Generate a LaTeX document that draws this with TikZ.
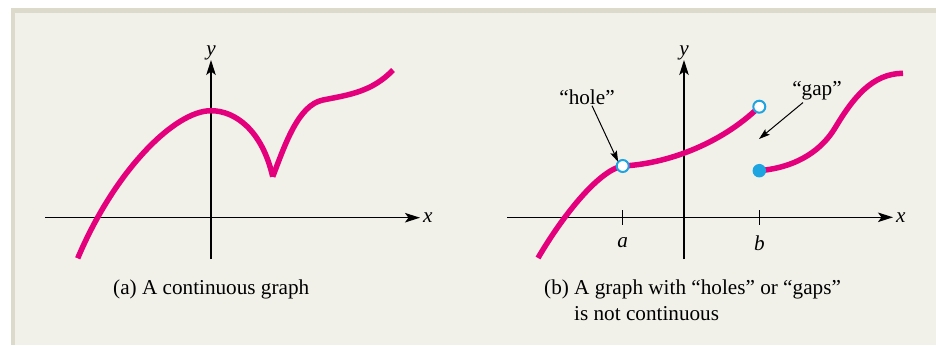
\documentclass[tikz,border=0pt]{standalone}
\usepackage{fontspec}
\setmainfont{Liberation Serif}
\newfontfamily\figfont{Liberation Serif}
\usetikzlibrary{arrows.meta}
\definecolor{bg}{HTML}{F2F1E9}
\definecolor{band}{HTML}{DCDBCB}
\definecolor{mag}{HTML}{E4007C}
\definecolor{dotblue}{HTML}{1EA4E0}
\begin{document}
\begin{tikzpicture}[x=1pt,y=-1pt,
  font=\figfont\fontsize{21.2}{25}\selectfont,
  axisarrow/.style={line width=1.2pt, -{Stealth[length=15pt,width=9.5pt,inset=3.5pt]}},
  axisline/.style={line width=1.2pt},
  curve/.style={draw=mag, line width=5.5pt, line join=round},
  holedot/.style={circle, draw=dotblue, fill=white, line width=2pt, minimum size=12pt, inner sep=0pt},
  filldot/.style={circle, fill=dotblue, minimum size=13.5pt, inner sep=0pt},
  notearrow/.style={line width=1pt, -{Stealth[length=11pt,width=7pt,inset=2pt]}},
  lbl/.style={inner sep=1pt}
]
% frame
\useasboundingbox (0,0) rectangle (936,345);
\fill[white] (0,0) rectangle (936,345);
\fill[bg] (11,8) rectangle (936,345);
\fill[band] (11,8) rectangle (936,13.5);
\fill[band] (11,8) rectangle (14.5,345);

% ---------- (a) ----------
\coordinate (xa0) at (45,217.7);
\coordinate (xa1) at (420,217.7);
\coordinate (ya0) at (211,259);
\coordinate (ya1) at (211,60);
\draw[axisarrow] (xa0) -- (xa1);
\draw[axisarrow] (ya0) -- (ya1);
\node[lbl, anchor=west] (xlabA) at ([xshift=2pt]xa1) {\textit{x}};
\node[lbl, anchor=south] (ylabA) at ([yshift=-1pt]ya1) {\textit{y}};

\draw[curve] (77.7,258.3) .. controls (115,170) and (175,110.7) .. (211,110.7)
  .. controls (235,110.7) and (262,130) .. (272.7,176.7);
\draw[curve] (272.7,176.7) .. controls (285,145) and (298,105) .. (323,100)
  .. controls (348,95) and (372,92) .. (393,70);

\node[lbl, anchor=base west] (capA) at (112,294) {(a) A continuous graph};

% ---------- (b) ----------
\coordinate (xb0) at (507,217.3);
\coordinate (xb1) at (893,217.3);
\coordinate (yb0) at (684,259);
\coordinate (yb1) at (684,60);
\draw[axisarrow] (xb0) -- (xb1);
\draw[axisarrow] (yb0) -- (yb1);
\node[lbl, anchor=west] (xlabB) at ([xshift=2pt]xb1) {\textit{x}};
\node[lbl, anchor=south] (ylabB) at ([yshift=-1pt]yb1) {\textit{y}};

\coordinate (ta0) at (622.7,210);
\coordinate (ta1) at (622.7,225);
\coordinate (tb0) at (759.3,210);
\coordinate (tb1) at (759.3,225);
\draw[axisline] (ta0) -- (ta1);
\draw[axisline] (tb0) -- (tb1);
\node[lbl] (alab) at (622.7,243) {\textit{a}};
\node[lbl] (blab) at (759.3,243) {\textit{b}};

\draw[curve] (538,258) .. controls (565,212) and (600,170) .. (622.7,166)
  .. controls (665,164) and (720,145) .. (759.3,106.7);
\draw[curve] (759.3,170.7) .. controls (800,167) and (823,147.8) .. (835,128)
  .. controls (853,98) and (872,73.5) .. (903,73.3);

\node[holedot] (hole) at (622.7,166) {};
\node[holedot] (gaptop) at (759.3,106.7) {};
\node[filldot] (gapbot) at (759.3,170.7) {};

\node[lbl] (holelab) at (587,97) {“hole”};
\node[lbl] (gaplab) at (817,91) {“gap”};
\coordinate (gapend) at (759,139);
\draw[notearrow] ([xshift=5pt]holelab.south) -- ([shift={(-1pt,-2pt)}]hole.120);
\draw[notearrow] ([xshift=-14pt,yshift=-1pt]gaplab.south) -- (gapend);

\node[lbl, anchor=base west] (capB1) at (543,294.5) {(b) A graph with “holes” or “gaps”};
\node[lbl, anchor=base west] (capB2) at (573,320) {is not continuous};
\end{tikzpicture}
\end{document}
